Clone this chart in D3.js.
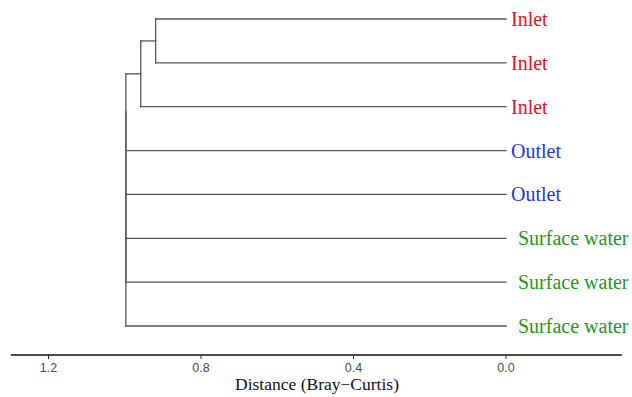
<!DOCTYPE html>
<html>
<head>
<meta charset="utf-8">
<script src="https://cdn.jsdelivr.net/npm/d3@7"></script>
<style>
  body { margin: 0; background: #fff; }
  svg { display: block; }
</style>
</head>
<body>
<div id="chart"></div>
<script>
// leaves, top to bottom
const leafLabels = ["Inlet", "Inlet", "Inlet", "Outlet", "Outlet", "Surface water", "Surface water", "Surface water"];
const leafGroups = ["Inlet", "Inlet", "Inlet", "Outlet", "Outlet", "Surface", "Surface", "Surface"];
// merges: [left child, right child, height]; negative = leaf index (1-based), positive = earlier merge
const merges = [
    [-1, -2, 0.919],
    [1, -3, 0.958],
    [2, -4, 0.997],
    [3, -5, 0.997],
    [4, -6, 0.997],
    [5, -7, 0.997],
    [6, -8, 0.997]
];
const tickValues = [1.2, 0.8, 0.4, 0.0];
const axisExtent = [1.299, -0.304];
const groupColors = { Inlet: "#e3131b", Outlet: "#1b3ae0", Surface: "#1b9a1b" };

const width = 632, height = 397;
const x = d3.scaleLinear().domain([1.2, 0]).range([48.5, 506]);
const y = d3.scaleLinear().domain([0, leafLabels.length - 1]).range([19, 326]);

const svg = d3.select("#chart").append("svg")
    .attr("width", width)
    .attr("height", height);

// build node positions
const nodes = [];
function pos(id) {
    if (id < 0) return { h: 0, yv: y(-id - 1) };
    return nodes[id - 1];
}
const segs = [];
merges.forEach(function (m) {
    const a = pos(m[0]), b = pos(m[1]), h = m[2];
    segs.push([a.h, a.yv, h, a.yv]);
    segs.push([b.h, b.yv, h, b.yv]);
    segs.push([h, a.yv, h, b.yv]);
    nodes.push({ h: h, yv: (a.yv + b.yv) / 2 });
});

svg.append("g")
    .selectAll("line")
    .data(segs)
    .enter().append("line")
    .attr("x1", d => x(d[0]))
    .attr("y1", d => d[1])
    .attr("x2", d => x(d[2]))
    .attr("y2", d => d[3])
    .attr("stroke", "#555")
    .attr("stroke-width", 1.3)
    .attr("stroke-linecap", "square");

// leaf labels
svg.append("g")
    .selectAll("text")
    .data(leafLabels)
    .enter().append("text")
    .attr("x", (d, i) => x(0) + (leafGroups[i] === "Surface" ? 12 : 5))
    .attr("y", (d, i) => y(i))
    .attr("dy", "0.35em")
    .style("font-family", "'Liberation Serif', 'Times New Roman', serif")
    .style("font-size", "20px")
    .attr("fill", (d, i) => groupColors[leafGroups[i]])
    .text(d => d);

// x axis
const axisG = svg.append("g")
    .attr("transform", "translate(0,355)");
axisG.append("line")
    .attr("x1", x(axisExtent[0]))
    .attr("x2", x(axisExtent[1]))
    .attr("stroke", "#111")
    .attr("stroke-width", 1.6);
const ticks = axisG.selectAll(".tick")
    .data(tickValues)
    .enter().append("g")
    .attr("class", "tick")
    .attr("transform", d => "translate(" + x(d) + ",0)");
ticks.append("line")
    .attr("y2", 4)
    .attr("stroke", "#333")
    .attr("stroke-width", 1);
ticks.append("text")
    .attr("y", 17)
    .attr("text-anchor", "middle")
    .style("font-family", "'Liberation Sans', Arial, sans-serif")
    .style("font-size", "12.5px")
    .attr("fill", "#4d4d4d")
    .text(d => d.toFixed(1));

svg.append("text")
    .attr("x", 317)
    .attr("y", 390)
    .attr("text-anchor", "middle")
    .style("font-family", "'Liberation Serif', 'Times New Roman', serif")
    .style("font-size", "17.5px")
    .attr("fill", "#111")
    .text("Distance (Bray\u2212Curtis)");
</script>
</body>
</html>
